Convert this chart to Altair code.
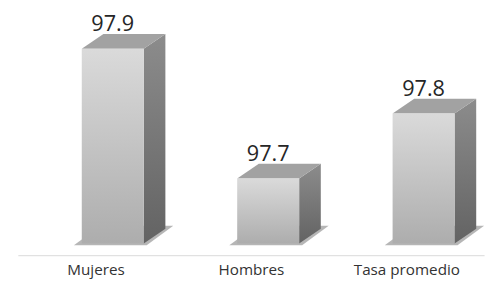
import altair as alt
import pandas as pd

# ---- data ----
categories = ["Mujeres", "Hombres", "Tasa promedio"]
values = [97.9, 97.7, 97.8]
floor_value = 97.6

# ---- geometry helpers (pixels -> data units) ----
PX_X = 158.0   # pixels per category unit
PX_Y = 660.0   # pixels per value unit
FL, FR = -14 / PX_X, 49 / PX_X      # front face edges relative to category centre
DX, DY = 22 / PX_X, 15 / PX_Y       # 3D depth
Y_MIN = floor_value - 12 / PX_Y
Y_MAX = Y_MIN + 249 / PX_Y

front_rows, side_rows, top_rows, shadow_rows = [], [], [], []
for i, (c, v) in enumerate(zip(categories, values)):
    front_rows.append({"cat": c, "xl": i + FL, "xr": i + FR, "top": v,
                       "base": floor_value, "xc": i + (FL + FR) / 2,
                       "lab": f"{v:.1f}", "ytxt": v + DY})
    side_rows.append({"cat": c, "x": i + FR, "ya": v, "yb": floor_value})
    side_rows.append({"cat": c, "x": i + FR + DX, "ya": v + DY, "yb": floor_value + DY})
    top_rows.append({"cat": c, "y": v, "xa": i + FL, "xb": i + FR})
    top_rows.append({"cat": c, "y": v + DY, "xa": i + FL + DX, "xb": i + FR + DX})
    shadow_rows.append({"cat": c, "y": floor_value - 2 / PX_Y,
                        "xa": i + FL - 8 / PX_X, "xb": i + FR + 3 / PX_X})
    shadow_rows.append({"cat": c, "y": floor_value + 18 / PX_Y,
                        "xa": i + FL + 19 / PX_X, "xb": i + FR + 30 / PX_X})

front = pd.DataFrame(front_rows)
side = pd.DataFrame(side_rows)
top = pd.DataFrame(top_rows)
shadow = pd.DataFrame(shadow_rows)

xs = alt.Scale(domain=[-0.5, 2.5], nice=False, zero=False)
ys = alt.Scale(domain=[Y_MIN, Y_MAX], nice=False, zero=False)

label_expr = "['Mujeres','Hombres','Tasa promedio'][datum.value]"
x_axis = alt.Axis(values=[0, 1, 2], labelExpr=label_expr, title=None,
                  grid=False, ticks=False, domain=True,
                  domainColor="#d9d9d9", domainWidth=1,
                  labelFont="Open Sans", labelFontSize=15.5,
                  labelColor="#333333", labelPadding=8)

shadow_layer = alt.Chart(shadow).mark_area(
    orient="horizontal", color="#7a7a7a", opacity=0.55
).encode(
    y=alt.Y("y:Q", scale=ys, axis=None),
    x=alt.X("xa:Q", scale=xs, axis=x_axis, stack=None),
    x2="xb:Q",
    detail="cat:N",
)

side_layer = alt.Chart(side).mark_area(
    orient="vertical",
    color=alt.Gradient(gradient="linear", x1=0, y1=0, x2=0, y2=1,
                       stops=[alt.GradientStop(color="#8c8c8c", offset=0),
                              alt.GradientStop(color="#636363", offset=1)])
).encode(
    x=alt.X("x:Q", scale=xs, axis=x_axis),
    y=alt.Y("ya:Q", scale=ys, axis=None, stack=None),
    y2="yb:Q",
    detail="cat:N",
)

top_layer = alt.Chart(top).mark_area(
    orient="horizontal", color="#a2a2a2"
).encode(
    y=alt.Y("y:Q", scale=ys, axis=None),
    x=alt.X("xa:Q", scale=xs, axis=x_axis, stack=None),
    x2="xb:Q",
    detail="cat:N",
)

front_layer = alt.Chart(front).mark_rect(
    color=alt.Gradient(gradient="linear", x1=0, y1=0, x2=0, y2=1,
                       stops=[alt.GradientStop(color="#dadada", offset=0),
                              alt.GradientStop(color="#adadad", offset=1)])
).encode(
    x=alt.X("xl:Q", scale=xs, axis=x_axis),
    x2="xr:Q",
    y=alt.Y("top:Q", scale=ys, axis=None),
    y2="base:Q",
)

text_layer = alt.Chart(front).mark_text(
    font="Open Sans", fontSize=22, color="#262626", baseline="alphabetic", dy=-3
).encode(
    x=alt.X("xc:Q", scale=xs, axis=x_axis),
    y=alt.Y("ytxt:Q", scale=ys, axis=None),
    text="lab:N",
)

chart = alt.layer(
    shadow_layer, side_layer, top_layer, front_layer, text_layer
).properties(
    width=474, height=249,
    autosize=alt.AutoSizeParams(type="none"),
    padding={"left": 10, "top": 0, "right": 5, "bottom": 30},
    background="white",
).configure_view(stroke=None)

chart.save("out.html", embed_options={"renderer": "svg", "actions": False})
